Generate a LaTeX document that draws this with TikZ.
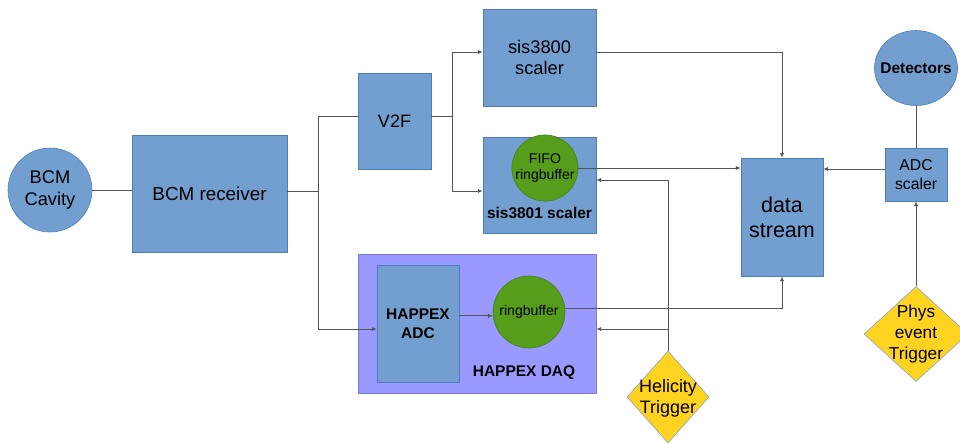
\documentclass[tikz,border=0pt]{standalone}
\usepackage{fontspec}
\setmainfont{Liberation Sans}
\usetikzlibrary{arrows.meta,shapes.geometric}
\definecolor{boxblue}{HTML}{729FCF}
\definecolor{boxline}{HTML}{4A7EBB}
\definecolor{bufgreen}{HTML}{579D1C}
\definecolor{trigyellow}{HTML}{FFD320}
\definecolor{daqviolet}{HTML}{9999FF}
\definecolor{wire}{HTML}{555555}
\tikzset{
  blk/.style={draw=boxline,fill=boxblue,inner sep=0pt,align=center},
  buf/.style={circle,draw=bufgreen!80!black,fill=bufgreen,inner sep=0pt,align=center},
  trig/.style={diamond,draw=boxline!70,fill=trigyellow,inner sep=0pt},
  wire/.style={draw=wire,line width=0.6pt},
  fsz/.style 2 args={font=\fontsize{#1}{#2}\selectfont},
  fszb/.style 2 args={font=\fontsize{#1}{#2}\selectfont\bfseries}
}
\begin{document}
\begin{tikzpicture}[x=0.025cm,y=-0.025cm,>={Latex[length=3.5pt,width=3pt]}]
\clip (0,0) rectangle (960,443);

% sources
\node[blk,circle,minimum size=2.1cm,fsz={13}{15}] (cav) at (50,190) {BCM\\Cavity};
\node[blk,minimum width=3.875cm,minimum height=2.925cm,fsz={13.4}{16}] (rcv) at (209.5,193.5) {BCM receiver};
\node[blk,minimum width=1.825cm,minimum height=2.4cm,fsz={12.8}{15}] (v2f) at (394.5,121) {V2F};

% scalers
\node[blk,minimum width=2.825cm,minimum height=2.425cm,fsz={13}{15.5}] (s3800) at (539.5,57.5) {sis3800\\scaler};
\node[blk,minimum width=2.825cm,minimum height=2.4cm] (s3801) at (539.5,185) {};
\node[buf,minimum size=1.55cm,fsz={10}{12}] (fifo) at (545,168) {FIFO\\ringbuffer};
\node[fszb={11}{13}] (s3801lbl) at (539.5,213) {sis3801 scaler};

% happex daq
\node[draw=daqviolet!80!black,fill=daqviolet,minimum width=5.95cm,minimum height=3.475cm] (daq) at (477,323.5) {};
\node[blk,minimum width=2.05cm,minimum height=2.925cm,fszb={11}{13.5}] (adc) at (418,323.5) {HAPPEX\\ADC};
\node[buf,minimum size=1.8cm,fsz={10}{12}] (ring) at (529,312) {ringbuffer};
\node[fszb={11}{13}] (daqlbl) at (524,373) {HAPPEX DAQ};

% output side
\node[blk,minimum width=2.05cm,minimum height=2.95cm,fsz={15.3}{18}] (ds) at (782,217) {data\\stream};
\node[blk,ellipse,minimum width=2.075cm,minimum height=1.875cm] (det) at (916,68) {};
\node[fszb={11}{13}] (detlbl) at (916,68) {Detectors};
\node[blk,minimum width=1.55cm,minimum height=1.325cm,fsz={11.2}{13.5}] (adcs) at (916,174.5) {ADC\\scaler};

% triggers
\node[trig,minimum width=2.05cm,minimum height=2.3cm] (heli) at (668,397) {};
\node[align=center,fsz={12.8}{15}] (helilbl) at (668,398) {Helicity\\Trigger};
\node[trig,minimum width=2.6cm,minimum height=2.375cm] (phys) at (916,334) {};
\node[align=center,fsz={12.3}{15}] (physlbl) at (916,334) {Phys\\event\\Trigger};

% connections
\coordinate (j1) at (318,191);
\coordinate (j2) at (452,116);
\coordinate (hc) at (668,180);
\draw[wire] (cav) -- (rcv.west |- cav);
\draw[wire] (rcv.east |- j1) -- (j1);
\draw[wire] (j1) |- (v2f.west |- j2);
\draw[wire,->] (j1) |- (adc.west |- 0,329);
\draw[wire] (v2f.east |- j2) -- (j2);
\draw[wire,->] (j2) |- (s3800.west |- 0,52);
\draw[wire,->] (j2) |- (s3801.west |- 0,191);
\draw[wire,->] (s3800.east |- 0,52) -| (ds.north);
\draw[wire,->] (fifo.east) -- (ds.west |- fifo);
\draw[wire] (heli.north) -- (hc);
\draw[wire,->] (hc) -- (s3801.east |- hc);
\draw[wire,->] (heli.north |- 0,329) -- (daq.east |- 0,329);
\draw[wire,->] (adc.east |- ring.186) -- (ring.186);
\draw[wire,->] (ring.6) -| (ds.south);
\draw[wire] (det) -- (adcs);
\draw[wire,->] (adcs.west |- 0,169) -- (ds.east |- 0,169);
\draw[wire,->] (phys.north) -- (adcs.south);
\end{tikzpicture}
\end{document}
